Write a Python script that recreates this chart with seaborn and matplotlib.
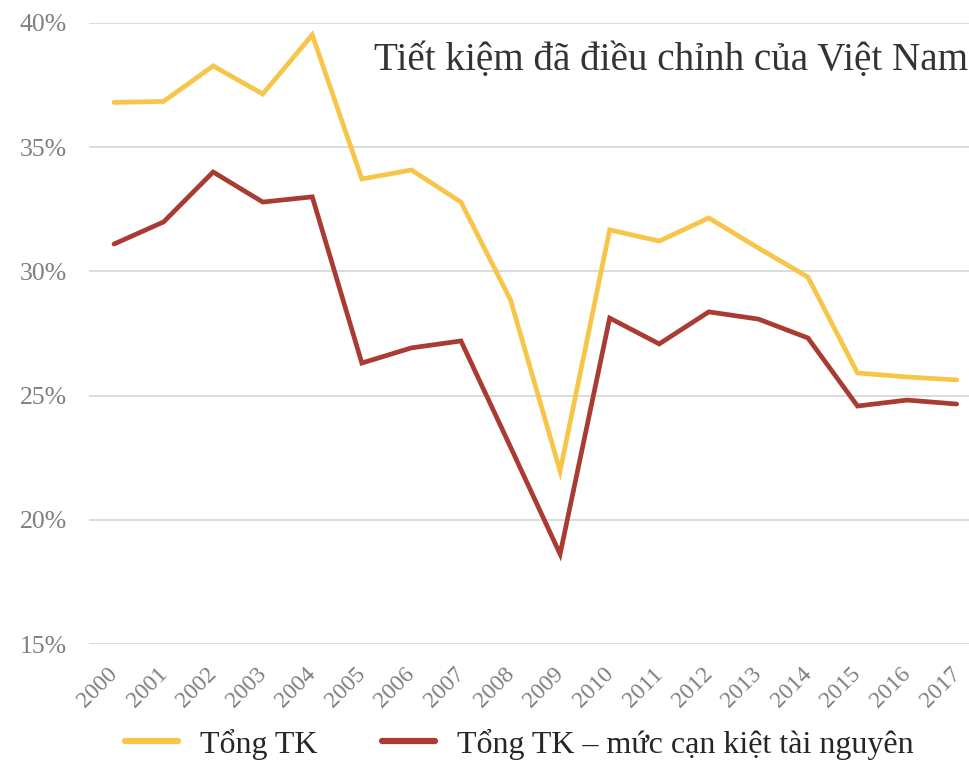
import pandas as pd
import numpy as np
import matplotlib
matplotlib.use("Agg")
import matplotlib.pyplot as plt
import matplotlib.transforms as mtransforms
import seaborn as sns

years = list(range(2000, 2018))
tong_tk = [36.8, 36.84, 38.27, 37.14, 39.52, 33.72, 34.08, 32.79, 28.85, 21.96,
           31.67, 31.22, 32.15, 30.94, 29.77, 25.91, 25.75, 25.63]
tong_tk_can_kiet = [31.1, 31.99, 34.0, 32.79, 33.0, 26.31, 26.92, 27.2, 22.93, 18.62,
                    28.12, 27.08, 28.37, 28.08, 27.32, 24.58, 24.82, 24.66]
series_names = ["Tổng TK", "Tổng TK – mức cạn kiệt tài nguyên"]
colors = ["#F7C548", "#A93B33"]
y_ticks = [15, 20, 25, 30, 35, 40]
title = "Tiết kiệm đã điều chỉnh của Việt Nam"

df = pd.DataFrame({
    "year": years * 2,
    "value": tong_tk + tong_tk_can_kiet,
    "series": [series_names[0]] * len(years) + [series_names[1]] * len(years),
})

sns.set_style("white")
plt.rcParams["font.family"] = ["Liberation Serif", "DejaVu Serif"]

fig = plt.figure(figsize=(9.7, 7.64), dpi=100)
ax = fig.add_axes([0.092, 0.157, 0.908, 0.813])

sns.lineplot(
    data=df, x="year", y="value", hue="series",
    palette=colors, linewidth=3.4, ax=ax, legend=False,
    solid_capstyle="round", solid_joinstyle="miter",
)

ax.set_ylim(15, 40)
ax.set_xlim(1999.5, 2017.27)
ax.set_yticks(y_ticks)
ax.set_yticklabels([f"{t}%" for t in y_ticks])
ax.set_xticks(years)
ax.set_xticklabels([str(y) for y in years], rotation=45, ha="right",
                   rotation_mode="anchor")
ax.tick_params(axis="y", labelsize=18.5, colors="#7F7F7F", length=0, pad=16)
ax.tick_params(axis="x", labelsize=17, colors="#7F7F7F", length=0, pad=14)
shift = mtransforms.ScaledTranslation(-7 / 100, 0, fig.dpi_scale_trans)
for lbl in ax.get_xticklabels():
    lbl.set_transform(lbl.get_transform() + shift)
ax.yaxis.grid(True, color="#D9D9D9", linewidth=1.3)
ax.set_axisbelow(True)
ax.set_xlabel("")
ax.set_ylabel("")
sns.despine(ax=ax, left=True, bottom=True)

ax.text(0.998, 0.94, title, transform=ax.transAxes, ha="right", va="center",
        fontsize=28.2, color="#333333")

handles = [plt.Line2D([], [], color=c, linewidth=4.5) for c in colors]
fig.legend(handles, series_names, loc="center left", bbox_to_anchor=(0.129, 0.026),
           ncol=2, frameon=False, fontsize=23, handlelength=1.66,
           columnspacing=2.0, handletextpad=0.69, borderpad=0, borderaxespad=0)

fig.savefig("out.png", dpi=100)
